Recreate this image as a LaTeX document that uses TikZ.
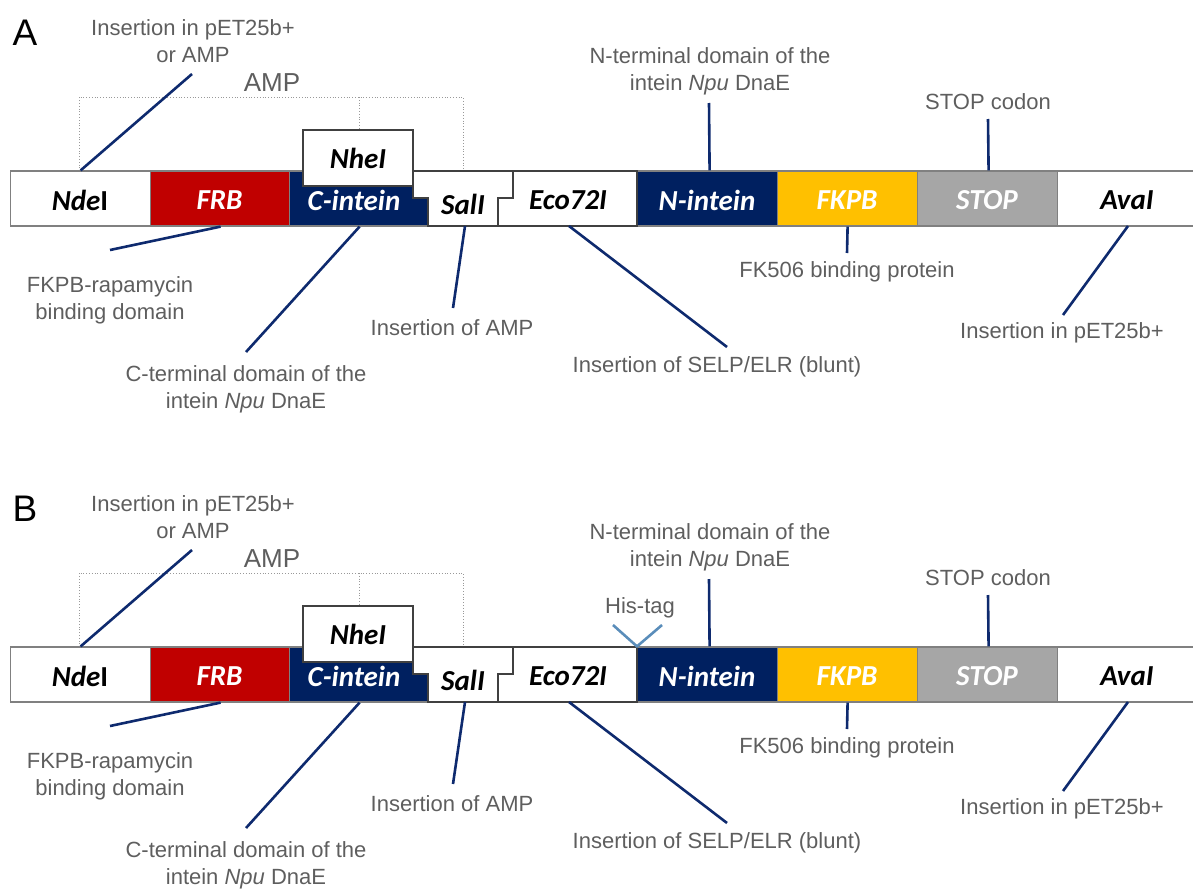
\documentclass[tikz,border=0pt]{standalone}
\usepackage{fontspec}
\setmainfont{Liberation Sans}
\newfontfamily\boxfont{Carlito}
\usetikzlibrary{calc}

\definecolor{navy}{HTML}{002060}
\definecolor{linenavy}{HTML}{0E2A6E}
\definecolor{frbred}{HTML}{C00000}
\definecolor{fkpbgold}{HTML}{FFC000}
\definecolor{stopgray}{HTML}{A6A6A6}
\definecolor{lblgray}{HTML}{5E5E5E}
\definecolor{edgegray}{HTML}{808080}
\definecolor{edgedark}{HTML}{404040}
\definecolor{histag}{HTML}{5A8DBA}

\tikzset{
  seg/.style={draw=edgegray, line width=1.2pt, minimum height=55pt, inner sep=0pt, anchor=west},
  boxtxt/.style={font=\boxfont\bfseries\itshape\fontsize{29}{31}\selectfont, inner sep=0pt},
  lbl/.style={font=\fontsize{22}{27}\selectfont, text=lblgray, align=center, inner sep=0pt},
  callout/.style={draw=linenavy, line width=2.6pt},
  bracket/.style={draw=gray!80, line width=0.8pt, dotted},
  sitebox/.style={draw=edgedark, line width=1.2pt, fill=white},
  panel/.style={font=\fontsize{37}{40}\selectfont, inner sep=0pt},
}

% one construct; #1 = name suffix
\newcommand\construct[1]{%
  % AMP bracket
  \coordinate (bl#1) at (79,97);
  \coordinate (bm#1) at (359,97);
  \coordinate (br#1) at (463,97);
  \draw[bracket] (79,171) -- (bl#1) -- (br#1) -- (463,171);
  \draw[bracket] (bm#1) -- (359,130);
  \node[font=\fontsize{26}{28}\selectfont, text=lblgray, inner sep=0pt] (amp#1) at (272,83) {AMP};
  % bar segments
  \node[seg, fill=white, minimum width=140pt] (nde#1) at (10,198.5) {};
  \node[seg, fill=frbred, minimum width=139pt] (frb#1) at (150,198.5) {};
  \node[seg, fill=navy, minimum width=139pt] (cint#1) at (289,198.5) {};
  \node[seg, fill=navy, minimum width=140pt] (nint#1) at (637,198.5) {};
  \node[seg, fill=fkpbgold, minimum width=140pt] (fkpb#1) at (777,198.5) {};
  \node[seg, fill=stopgray, minimum width=140pt] (stop#1) at (917,198.5) {};
  \node[seg, fill=white, minimum width=145pt] (ava#1) at (1057,198.5) {};
  % restriction-site pieces
  \draw[sitebox] (513,171) -- (637,171) -- (637,226) -- (498,226) -- (498,198) -- (513,198) -- cycle;
  \draw[sitebox] (413,171) -- (513,171) -- (513,198) -- (498,198) -- (498,226) -- (428,226) -- (428,198) -- (413,198) -- cycle;
  \node[sitebox, minimum width=110pt, minimum height=56pt, inner sep=0pt] (nhe#1) at (358,158) {};
  % segment texts
  \node[boxtxt] at (80,200) {\textit{Nde}\upshape I};
  \node[boxtxt, text=white] at (219.5,200) {FRB};
  \node[boxtxt, text=white] at (354,200) {C-intein};
  \node[boxtxt] at (358,158) {NheI};
  \node[boxtxt] (sal#1) at (463,204) {SalI};
  \node[boxtxt] (eco#1) at (568,200) {Eco72I};
  \node[boxtxt, text=white] at (707,200) {N-intein};
  \node[boxtxt, text=white] at (847,200) {FKPB};
  \node[boxtxt, text=white] at (987,200) {STOP};
  \node[boxtxt] at (1127,200) {AvaI};
  % labels
  \node[lbl] (l1#1) at (193,41.5) {Insertion in pET25b+\\or AMP};
  \node[lbl] (l2#1) at (110,300.5) {FKPB-rapamycin\\binding domain};
  \node[lbl] (l3#1) at (246,389.5) {C-terminal domain of the\\intein \textit{Npu} DnaE};
  \node[lbl] (l4#1) at (452,328) {Insertion of AMP};
  \node[lbl] (l5#1) at (717,367) {Insertion of SELP/ELR (blunt)};
  \node[lbl] (l6#1) at (710,71.5) {N-terminal domain of the\\intein \textit{Npu} DnaE};
  \node[lbl] (l7#1) at (847,272) {FK506 binding protein};
  \node[lbl] (l8#1) at (988,102) {STOP codon};
  \node[lbl] (l9#1) at (1062,333) {Insertion in pET25b+};
  % callout ends
  \coordinate (e1#1) at (192,74);
  \coordinate (e2#1) at (110,250);
  \coordinate (e3#1) at (246,352);
  \coordinate (e4#1) at (453,308);
  \coordinate (e5#1) at (727,347);
  \coordinate (e6#1) at (709,103);
  \coordinate (e7#1) at (847,253);
  \coordinate (e8#1) at (988,119);
  \coordinate (e9#1) at (1063,315);
  \draw[callout] (e1#1) -- (nde#1.north);
  \draw[callout] ($(frb#1.south)+(0.5,0)$) -- (e2#1);
  \draw[callout] ($(cint#1.south)+(0.5,0)$) -- (e3#1);
  \draw[callout] (465,226) -- (e4#1);
  \draw[callout] (569,226) -- (e5#1);
  \draw[callout] ($(nint#1.north)+(2,0)$) -- (e6#1);
  \draw[callout] (fkpb#1.south) -- (e7#1);
  \draw[callout] ($(stop#1.north)+(1,0)$) -- (e8#1);
  \draw[callout] (1128,226) -- (e9#1);
}

\begin{document}
\begin{tikzpicture}[x=1pt, y=-1pt]
  \useasboundingbox (0,0) rectangle (1193,891);
  \node[panel] (pa) at (25,33) {A};
  \construct{A}
  \begin{scope}[shift={(0,476)}]
    \node[panel] (pb) at (25,33) {B};
    \construct{B}
    % His-tag marker at the Eco72I / N-intein junction
    \coordinate (hl) at (613,149);
    \coordinate (hr) at (662,149);
    \draw[histag, line width=2.6pt] (hl) -- (nintB.north west) -- (hr);
    \node[lbl] (his) at (640,132) {His-tag};
  \end{scope}
\end{tikzpicture}
\end{document}
